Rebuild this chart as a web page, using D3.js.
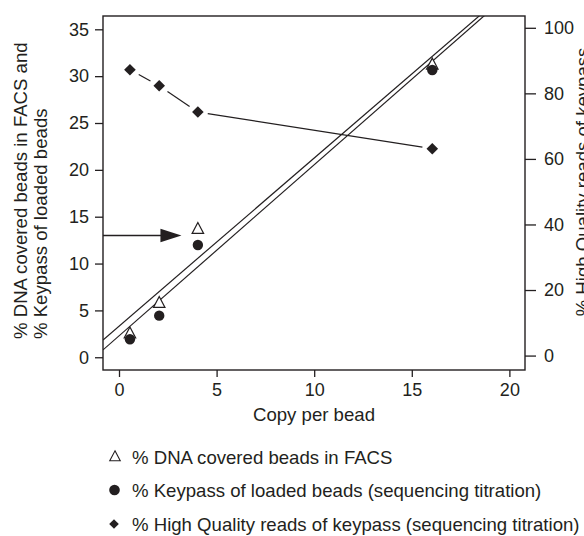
<!DOCTYPE html>
<html>
<head>
<meta charset="utf-8">
<script src="https://cdn.jsdelivr.net/npm/d3@7"></script>
<style>
  html, body { margin: 0; padding: 0; background: #fff; }
  svg { display: block; }
  text { font-family: "Liberation Sans", Arial, Helvetica, sans-serif; fill: #231f20; }
</style>
</head>
<body>
<svg id="chart" width="584" height="536"></svg>
<script>
// ---- data ----
const copyPerBead = [0.56, 2.06, 4.04, 16.05];
const dnaCoveredFACS = [2.5, 5.76, 13.66, 31.2];        // triangles, left axis
const keypassLoaded = [1.92, 4.44, 11.98, 30.66];        // circles, left axis
const highQualityReads = [87.2, 82.3, 74.3, 63.1];       // diamonds, right axis
// trend lines: [slope, intercept]
const fitFACS = [1.794, 3.32];
const fitKeypass = [1.826, 2.28];
// arrow marking level 13 %
const arrowLevel = [13];
const arrowEndX = [3.2];
const xTicks = [0, 5, 10, 15, 20];
const yLeftTicks = [0, 5, 10, 15, 20, 25, 30, 35];
const yRightTicks = [0, 20, 40, 60, 80, 100];
const legendLabels = [
  "% DNA covered beads in FACS",
  "% Keypass of loaded beads (sequencing titration)",
  "% High Quality reads of keypass (sequencing titration)"
];
const xTitle = "Copy per bead";
const yLeftTitle = ["% DNA covered beads in FACS and", "% Keypass of loaded beads"];
const yRightTitle = "% High Quality reads of keypass";

// ---- layout ----
const L = 103, R = 525, T = 16, B = 370;
const ink = "#231f20";
const svg = d3.select("#chart");

const x = d3.scaleLinear().domain([-0.82, 20.8]).range([L, R]);
const yL = d3.scaleLinear().domain([-1.36, 36.42]).range([B, T]);
const yR = d3.scaleLinear().domain([-4.4, 103.6]).range([B, T]);

svg.append("defs").append("clipPath").attr("id", "plotclip")
  .append("rect").attr("x", L).attr("y", T).attr("width", R - L).attr("height", B - T);

// axes
const fs = "18px";
const fsT = "18.6px";
const axL = svg.append("g").attr("transform", `translate(${L},0)`)
  .call(d3.axisLeft(yL).tickValues(yLeftTicks).tickSize(8).tickPadding(6));
const axR = svg.append("g").attr("transform", `translate(${R},0)`)
  .call(d3.axisRight(yR).tickValues(yRightTicks).tickSize(11).tickPadding(8));
const axB = svg.append("g").attr("transform", `translate(0,${B})`)
  .call(d3.axisBottom(x).tickValues(xTicks).tickSize(7).tickPadding(5));
[axL, axR, axB].forEach(g => {
  g.select(".domain").remove();
  g.selectAll(".tick line").attr("stroke", ink).attr("stroke-width", 1.3);
  g.selectAll(".tick text").style("font-size", fs).attr("fill", ink);
});
axB.selectAll(".tick text").attr("dy", "0.78em");

// frame
svg.append("rect").attr("x", L).attr("y", T).attr("width", R - L).attr("height", B - T)
  .attr("fill", "none").attr("stroke", ink).attr("stroke-width", 1.4);

const plot = svg.append("g").attr("clip-path", "url(#plotclip)");

// trend lines
[fitFACS, fitKeypass].forEach(f => {
  const xd = x.domain();
  plot.append("line")
    .attr("x1", x(xd[0])).attr("y1", yL(f[1] + f[0] * xd[0]))
    .attr("x2", x(xd[1])).attr("y2", yL(f[1] + f[0] * xd[1]))
    .attr("stroke", ink).attr("stroke-width", 1.2);
});

// diamond connecting segments with gaps near markers
const gap = 10;
for (let i = 0; i < copyPerBead.length - 1; i++) {
  const x1 = x(copyPerBead[i]), y1 = yR(highQualityReads[i]);
  const x2 = x(copyPerBead[i + 1]), y2 = yR(highQualityReads[i + 1]);
  const len = Math.hypot(x2 - x1, y2 - y1);
  const ux = (x2 - x1) / len, uy = (y2 - y1) / len;
  plot.append("line")
    .attr("x1", x1 + ux * gap).attr("y1", y1 + uy * gap)
    .attr("x2", x2 - ux * gap).attr("y2", y2 - uy * gap)
    .attr("stroke", ink).attr("stroke-width", 1.2);
}

// arrow
const ay = yL(arrowLevel[0]);
const ax2 = x(arrowEndX[0]);
svg.append("line").attr("x1", L).attr("y1", ay).attr("x2", ax2 - 18).attr("y2", ay)
  .attr("stroke", ink).attr("stroke-width", 1.4);
svg.append("path")
  .attr("d", `M${ax2},${ay} L${ax2 - 21},${ay - 6.7} L${ax2 - 21},${ay + 6.7} Z`)
  .attr("fill", ink);

// markers
const triPath = (cx, cy, s) => {
  const h = s * 0.95;
  return `M${cx},${cy - h * 0.62} L${cx + s / 2},${cy + h * 0.38} L${cx - s / 2},${cy + h * 0.38} Z`;
};
const diaPath = (cx, cy, r) => `M${cx},${cy - r} L${cx + r},${cy} L${cx},${cy + r} L${cx - r},${cy} Z`;

copyPerBead.forEach((c, i) => {
  svg.append("path").attr("d", triPath(x(c), yL(dnaCoveredFACS[i]), 11.5))
    .attr("fill", "#fff").attr("stroke", ink).attr("stroke-width", 1.2);
});
copyPerBead.forEach((c, i) => {
  svg.append("circle").attr("cx", x(c)).attr("cy", yL(keypassLoaded[i])).attr("r", 5.2)
    .attr("fill", ink);
});
copyPerBead.forEach((c, i) => {
  svg.append("path").attr("d", diaPath(x(c), yR(highQualityReads[i]), 5.8)).attr("fill", ink);
});

// axis titles
svg.append("text").attr("x", 314).attr("y", 421).attr("text-anchor", "middle")
  .style("font-size", fsT).text(xTitle);

const lt = svg.append("text").attr("transform", "translate(26.5,339) rotate(-90)")
  .style("font-size", fsT);
yLeftTitle.forEach((s, i) => {
  lt.append("tspan").attr("x", 0).attr("y", i * 20.5).text(s);
});

svg.append("text").attr("transform", "translate(589,182) rotate(-90)")
  .attr("text-anchor", "middle").style("font-size", fsT).text(yRightTitle);

// legend
const legY = [457, 490, 524];
const lg = svg.append("g");
lg.append("path").attr("d", triPath(115, legY[0], 10.5))
  .attr("fill", "#fff").attr("stroke", ink).attr("stroke-width", 1.1);
lg.append("circle").attr("cx", 114.5).attr("cy", legY[1]).attr("r", 5.3).attr("fill", ink);
lg.append("path").attr("d", diaPath(114, legY[2], 4.8)).attr("fill", ink);
legendLabels.forEach((s, i) => {
  lg.append("text").attr("x", 132).attr("y", legY[i] + 7).style("font-size", fsT).text(s);
});
</script>
</body>
</html>
